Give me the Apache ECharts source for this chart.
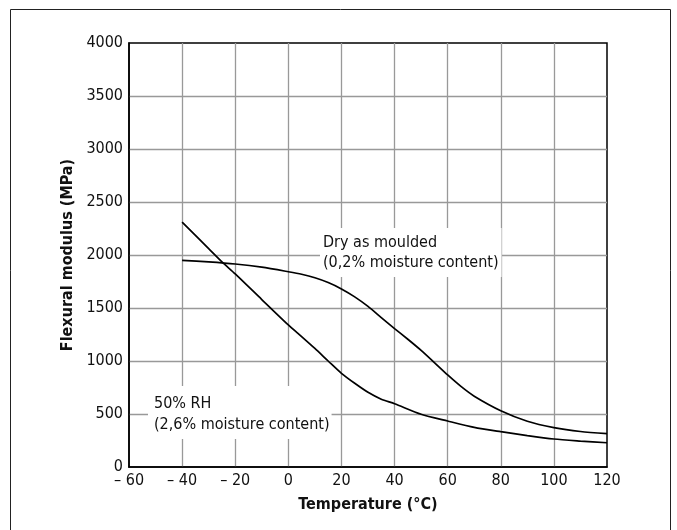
<!DOCTYPE html>
<html>
<head>
<meta charset="utf-8">
<script src="https://cdn.jsdelivr.net/npm/echarts@6/dist/echarts.min.js"></script>
<style>
html,body{margin:0;padding:0;background:#fff;}
#c{width:677px;height:530px;}
</style>
</head>
<body>
<div id="c"></div>
<script>
// Data
var dryTemp    = [-40, -30, -20, -10, 0, 5, 10, 15, 20, 25, 30, 35, 40, 45, 50, 55, 60, 65, 70, 80, 90, 100, 110, 120];
var dryModulus = [1950, 1935, 1915, 1885, 1842, 1818, 1785, 1740, 1680, 1605, 1515, 1410, 1306, 1205, 1100, 985, 868, 760, 668, 531, 432, 372, 335, 315];
var rhTemp     = [-40, -30, -25, -20, -10, 0, 5, 10, 15, 20, 25, 30, 35, 40, 50, 60, 70, 80, 90, 100, 110, 120];
var rhModulus  = [2310, 2060, 1935, 1822, 1580, 1340, 1230, 1118, 1000, 884, 790, 705, 640, 597, 498, 434, 374, 333, 296, 264, 245, 229];
var xTicks = [-60, -40, -20, 0, 20, 40, 60, 80, 100, 120];
var yTicks = [0, 500, 1000, 1500, 2000, 2500, 3000, 3500, 4000];
var xTitle = 'Temperature (°C)';
var yTitle = 'Flexural modulus (MPa)';
var dryLabel = ['Dry as moulded', '(0,2% moisture content)'];
var rhLabel = ['50% RH', '(2,6% moisture content)'];

var FONT = '"Liberation Sans Narrow", "DejaVu Sans Condensed", sans-serif';

function pairs(xs, ys) { return xs.map(function (x, i) { return [x, ys[i]]; }); }

var chart = echarts.init(document.getElementById('c'), null, {renderer: 'canvas'});
chart.setOption({
  backgroundColor: '#fff',
  animation: false,
  grid: {
    left: 129, top: 43, width: 478, height: 424,
    show: true, borderColor: '#000', borderWidth: 1.5, backgroundColor: 'transparent'
  },
  xAxis: {
    type: 'value',
    min: xTicks[0], max: xTicks[xTicks.length - 1], interval: xTicks[1] - xTicks[0],
    name: xTitle, nameLocation: 'middle', nameGap: 30,
    nameTextStyle: {fontFamily: FONT, fontWeight: 'bold', fontSize: 16, color: '#111'},
    axisLine: {show: true, onZero: false, lineStyle: {color: '#000', width: 1.5}},
    axisTick: {show: false},
    axisLabel: {
      margin: 6, fontFamily: FONT, fontSize: 16, color: '#111',
      formatter: function (v) { return v < 0 ? '\u2013 ' + Math.abs(v) : String(v); }
    },
    splitLine: {show: true, showMinLine: false, showMaxLine: false, lineStyle: {color: '#999', width: 1.3}}
  },
  yAxis: {
    type: 'value',
    min: yTicks[0], max: yTicks[yTicks.length - 1], interval: yTicks[1] - yTicks[0],
    name: yTitle, nameLocation: 'middle', nameGap: 48, nameRotate: 90,
    nameTextStyle: {fontFamily: FONT, fontWeight: 'bold', fontSize: 16, color: '#111'},
    axisLine: {show: true, onZero: false, lineStyle: {color: '#000', width: 1.5}},
    axisTick: {show: false},
    axisLabel: {
      margin: 6, fontFamily: FONT, fontSize: 16, color: '#111',
      formatter: function (v) { return String(v); }
    },
    splitLine: {show: true, showMinLine: false, showMaxLine: false, lineStyle: {color: '#999', width: 1.3}}
  },
  series: [
    {
      name: 'Dry as moulded', type: 'line', data: pairs(dryTemp, dryModulus),
      smooth: 0.25, showSymbol: false, lineStyle: {color: '#000', width: 1.7}, z: 3
    },
    {
      name: '50% RH', type: 'line', data: pairs(rhTemp, rhModulus),
      smooth: 0.25, showSymbol: false, lineStyle: {color: '#000', width: 1.7}, z: 3
    }
  ],
  graphic: [
    {
      type: 'rect', silent: true, z: 0,
      shape: {x: 10.5, y: 9.5, width: 660, height: 530},
      style: {fill: 'none', stroke: '#222', lineWidth: 1}
    },
    {
      type: 'text', z: 10, left: 320, top: 228,
      style: {
        text: dryLabel.join('\n'), fontFamily: FONT, fontSize: 16, lineHeight: 20,
        fill: '#111', backgroundColor: '#fff', padding: [5, 3, 4, 3]
      }
    },
    {
      type: 'text', z: 10, left: 148, top: 386,
      style: {
        text: rhLabel.join('\n'), fontFamily: FONT, fontSize: 16, lineHeight: 21,
        fill: '#111', backgroundColor: '#fff', padding: [7, 2, 4, 6]
      }
    }
  ]
});
</script>
</body>
</html>
